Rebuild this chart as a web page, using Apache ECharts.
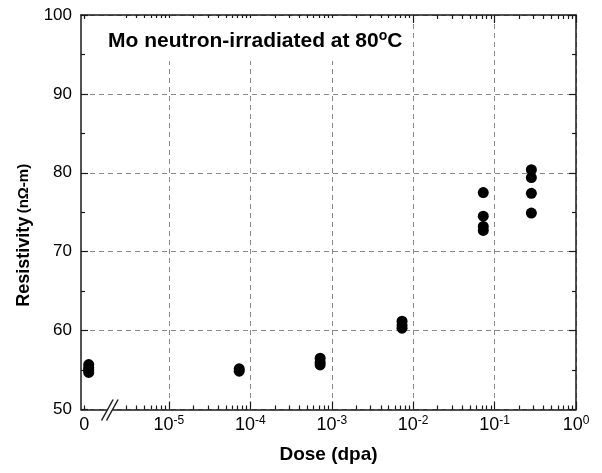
<!DOCTYPE html>
<html><head><meta charset="utf-8">
<script src="https://cdn.jsdelivr.net/npm/echarts@6/dist/echarts.min.js"></script>
<style>html,body{margin:0;padding:0;background:#fff}#c{width:602px;height:473px}</style>
</head><body><div id="c"></div>
<script>
// ---- data ----
const doseGroups = [0, 7.3e-5, 7.2e-4, 7.3e-3, 0.0726, 0.283];   // dpa (0 = unirradiated)
const resistivityGroups = [
  [54.7, 55.0, 55.3, 55.7],
  [54.85, 55.15],
  [55.65, 56.0, 56.5],
  [60.3, 60.7, 61.2],
  [72.7, 73.2, 74.5, 77.5],
  [74.9, 77.4, 79.4, 80.4]
];
const xMajorExp = [-5, -4, -3, -2, -1, 0];
const yMin = 50, yMax = 100, yStep = 10;
const titleText = 'Mo neutron-irradiated at 80';
const xName = 'Dose (dpa)';
const yName = 'Resistivity';
const yUnit = '(nΩ-m)';

// axis layout in log10 units (broken axis: "0" placed left of the break)
const X_MIN = -6.08, X_MAX = 0;
const ZERO_POS = -5.985;     // where dose = 0 is plotted
const ZERO_LABEL_POS = -6.04;
const BREAK_POS = -5.726;

const pos = d => d === 0 ? ZERO_POS : Math.log10(d);
const points = [];
doseGroups.forEach((d, i) => resistivityGroups[i].forEach(r => points.push([pos(d), r])));

const minorTicks = [ZERO_LABEL_POS];
for (let dec = -6; dec <= -1; dec++) for (let k = 2; k <= 9; k++) {
  const v = dec + Math.log10(k);
  if (v > BREAK_POS + 0.1) minorTicks.push(v);
}

const FONT = '"Liberation Sans", Arial, Helvetica, sans-serif';
const AX = '#1a1a1a';
const dash = { color: '#8a8a8a', width: 1, type: [5, 4] };

function xAx(position, major, showLabel) {
  return {
    type: 'value', min: X_MIN, max: X_MAX, position: position,
    axisLine: { show: major, onZero: false, lineStyle: { color: AX, width: 1.5 } },
    axisTick: { show: true, inside: true, length: major ? 8 : 4,
      customValues: major ? xMajorExp : minorTicks, lineStyle: { color: AX, width: 1.2 } },
    axisLabel: showLabel ? {
      customValues: [ZERO_LABEL_POS].concat(xMajorExp),
      margin: 5,
      formatter: v => (Math.abs(v - ZERO_LABEL_POS) < 1e-6) ? '{b|0}' : '{b|10}{s|' + Math.round(v) + '}',
      rich: {
        b: { fontFamily: FONT, fontSize: 18, color: '#000', lineHeight: 20, padding: [6, 0, 0, 0], verticalAlign: 'bottom' },
        s: { fontFamily: FONT, fontSize: 12, color: '#000', lineHeight: 12, verticalAlign: 'top' }
      }
    } : { show: false },
    splitLine: { show: major && showLabel, lineStyle: dash },
    name: showLabel ? xName : '',
    nameLocation: 'middle', nameGap: 36,
    nameTextStyle: { fontFamily: FONT, fontSize: 19, fontWeight: 'bold', color: '#000' }
  };
}

const chart = echarts.init(document.getElementById('c'), null, { renderer: 'canvas' });
chart.setOption({
  animation: false,
  backgroundColor: '#fff',
  title: {
    text: '{t|' + titleText + '}{s|o}{t|C}',
    left: 100, top: 21,
    padding: [8, 8, 9, 8],
    backgroundColor: '#fff',
    textStyle: { rich: {
      t: { fontFamily: FONT, fontSize: 21, fontWeight: 'bold', color: '#000', lineHeight: 23, padding: [5, 0, 0, 0], verticalAlign: 'bottom' },
      s: { fontFamily: FONT, fontSize: 14, fontWeight: 'bold', color: '#000', lineHeight: 14, verticalAlign: 'top' }
    } }
  },
  grid: { left: 81, right: 26, top: 15, bottom: 63.5, containLabel: false },
  xAxis: [
    xAx('bottom', true, true),
    xAx('bottom', false, false),
    xAx('top', true, false),
    xAx('top', false, false)
  ],
  yAxis: [
    {
      type: 'value', min: yMin, max: yMax, interval: yStep, position: 'left',
      axisLine: { show: true, onZero: false, lineStyle: { color: AX, width: 1.5 } },
      axisTick: { inside: true, length: 7, lineStyle: { color: AX, width: 1.2 } },
      minorTick: { show: true, splitNumber: 2, length: 4, lineStyle: { color: AX, width: 1.2 } },
      axisLabel: { fontFamily: FONT, fontSize: 17, color: '#000', margin: 9 },
      splitLine: { show: true, lineStyle: dash },
      name: '{a|' + yName + '} {u|' + yUnit + '}',
      nameLocation: 'middle', nameGap: 47, nameRotate: 90,
      nameTextStyle: {
        padding: [0, 46, 0, 0],
        rich: {
          a: { fontFamily: FONT, fontSize: 18, fontWeight: 'bold', color: '#000' },
          u: { fontFamily: FONT, fontSize: 15, fontWeight: 'bold', color: '#000' }
        }
      }
    },
    {
      type: 'value', min: yMin, max: yMax, interval: yStep, position: 'right',
      axisLine: { show: true, onZero: false, lineStyle: { color: AX, width: 1.5 } },
      axisTick: { inside: true, length: 7, lineStyle: { color: AX, width: 1.2 } },
      minorTick: { show: true, splitNumber: 2, length: 4, lineStyle: { color: AX, width: 1.2 } },
      axisLabel: { show: false },
      splitLine: { show: false }
    }
  ],
  series: [{
    type: 'scatter', xAxisIndex: 0, yAxisIndex: 0,
    data: points, symbol: 'circle', symbolSize: 11,
    itemStyle: { color: '#000', opacity: 1 }
  }]
});

// axis break marks on the bottom axis
const bx = chart.convertToPixel({ xAxisIndex: 0 }, BREAK_POS);
const by = chart.convertToPixel({ yAxisIndex: 0 }, yMin);
chart.setOption({
  graphic: [
    { type: 'rect', shape: { x: bx - 3, y: by - 3, width: 6, height: 6 }, style: { fill: '#fff' }, z: 100 },
    { type: 'line', shape: { x1: bx - 8.3, y1: by + 11, x2: bx + 3.3, y2: by - 10 }, style: { stroke: AX, lineWidth: 1.5 }, z: 101 },
    { type: 'line', shape: { x1: bx - 3.3, y1: by + 11, x2: bx + 8.3, y2: by - 10 }, style: { stroke: AX, lineWidth: 1.5 }, z: 101 }
  ]
});
</script>
</body></html>
